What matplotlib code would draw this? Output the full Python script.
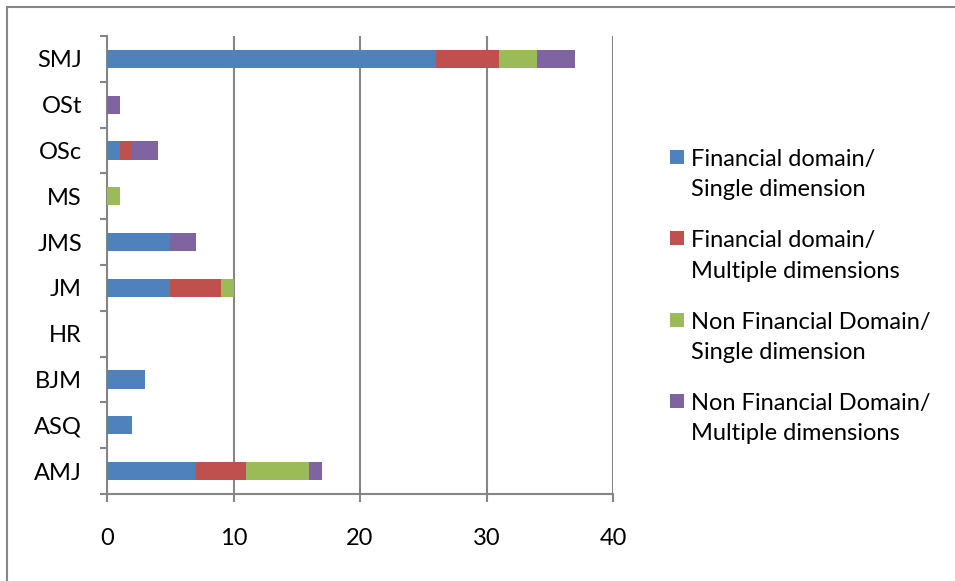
import numpy as np
import matplotlib.pyplot as plt
from matplotlib.patches import Rectangle
from matplotlib.ticker import FixedLocator

# Journals, bottom to top
journals = ["AMJ", "ASQ", "BJM", "HR", "JM", "JMS", "MS", "OSc", "OSt", "SMJ"]

# Number of studies per journal in each category
fin_single = [7, 2, 3, 0, 5, 5, 0, 1, 0, 26]
fin_multi = [4, 0, 0, 0, 4, 0, 0, 1, 0, 5]
nonfin_single = [5, 0, 0, 0, 1, 0, 1, 0, 0, 3]
nonfin_multi = [1, 0, 0, 0, 0, 2, 0, 2, 1, 3]

series_labels = [
    ["Financial domain/", "Single dimension"],
    ["Financial domain/", "Multiple dimensions"],
    ["Non Financial Domain/", "Single dimension"],
    ["Non Financial Domain/", "Multiple dimensions"],
]
colors = ["#4F81BD", "#C0504D", "#9BBB59", "#8064A2"]

plt.rcParams['font.family'] = ['Lato', 'DejaVu Sans']
grey = "#868686"
W, H = 955, 581

fig = plt.figure(figsize=(W / 100, H / 100), dpi=100)
ax = fig.add_axes([107 / W, 1 - 494 / H, (613 - 107) / W, (494 - 36) / H])

y = np.arange(len(journals))
left = np.zeros(len(journals))
for vals, label, color in zip([fin_single, fin_multi, nonfin_single, nonfin_multi],
                              series_labels, colors):
    vals = np.array(vals, dtype=float)
    ax.barh(y, vals, left=left, height=0.4, color=color, label="\n".join(label), zorder=3)
    left += vals

ax.set_xlim(0, 40)
ax.set_ylim(-0.5, len(journals) - 0.5)
ax.set_xticks([0, 10, 20, 30, 40])
ax.set_yticks(y)
ax.set_yticklabels(journals)
ax.yaxis.set_minor_locator(FixedLocator(np.arange(-0.5, len(journals), 1.0)))

ax.grid(axis='x', color=grey, linewidth=1.5, zorder=0)
for side in ['top', 'right']:
    ax.spines[side].set_visible(False)
for side in ['left', 'bottom']:
    ax.spines[side].set_color(grey)
    ax.spines[side].set_linewidth(1.5)

ax.tick_params(axis='y', which='major', length=0, pad=18, labelsize=17)
ax.tick_params(axis='y', which='minor', length=5, width=1.5, color=grey, direction='out')
ax.tick_params(axis='x', length=5.5, width=1.5, color=grey, direction='out', pad=19, labelsize=17)

# Legend: square key beside the first line of each two-line label
for i, (lines, color) in enumerate(zip(series_labels, colors)):
    yc = 157 + i * 81.3
    fig.patches.append(Rectangle((670 / W, 1 - (yc + 7) / H), 14 / W, 14 / H,
                                 transform=fig.transFigure, facecolor=color,
                                 edgecolor='none'))
    for j, line in enumerate(lines):
        fig.text(691 / W, 1 - (yc + 9 + j * 30.5) / H, line, fontsize=17,
                 va='baseline', ha='left', color='black')

# Outer chart border (only top and left edges fall inside the image)
fig.patches.append(Rectangle((7 / W, -0.1), 1.2, 1 - 7 / H + 0.1,
                             transform=fig.transFigure, fill=False,
                             edgecolor=grey, linewidth=1.5))

fig.savefig("out.png", dpi=100)
